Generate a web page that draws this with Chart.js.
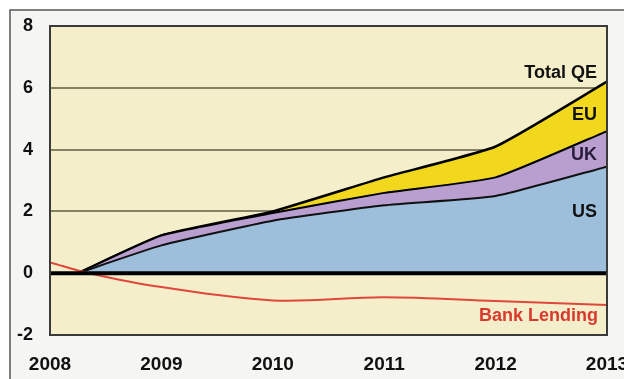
<!DOCTYPE html>
<html>
<head>
<meta charset="utf-8">
<script src="https://cdn.jsdelivr.net/npm/chart.js@4"></script>
<style>
  html, body { margin: 0; padding: 0; background: #fff; }
  #wrap { width: 624px; height: 379px; position: relative; }
</style>
</head>
<body>
<div id="wrap"><canvas id="qeChart" width="624" height="379"></canvas></div>
<script>
// data (trillions)
let years = [2008.25, 2009, 2010, 2011, 2012, 2013];
let us = [0, 0.9, 1.7, 2.2, 2.5, 3.45];
let uk = [0, 0.32, 0.25, 0.4, 0.6, 1.15];
let eu = [0, 0, 0.05, 0.5, 1.0, 1.6];
let lendingYears = [2008, 2008.35, 2009, 2010, 2011, 2012, 2013];
let lending = [0.35, 0, -0.45, -0.88, -0.78, -0.9, -1.03];
let yTicks = [-2, 0, 2, 4, 6, 8];
let xTicks = [2008, 2009, 2010, 2011, 2012, 2013];

function pts(xs, ys) {
  return xs.map((x, i) => ({ x: x, y: ys[i] }));
}

// cumulative totals for the stacked bands
let usTop = us.slice();
let ukTop = us.map((v, i) => v + uk[i]);
let euTop = ukTop.map((v, i) => v + eu[i]);

let FONT = "'Liberation Sans', Arial, sans-serif";

// frame + cream plot background + right-side labels
let decor = {
  id: "decor",
  beforeDraw(chart) {
    let c = chart.ctx, a = chart.chartArea;
    c.save();
    c.fillStyle = "#f5f5f3";
    c.fillRect(10, 10, 620, 375);
    c.strokeStyle = "#555";
    c.lineWidth = 1.5;
    c.beginPath();
    c.moveTo(10, 379);
    c.lineTo(10, 10);
    c.lineTo(624, 10);
    c.stroke();
    c.fillStyle = "#f4eecb";
    c.fillRect(a.left, a.top, a.right - a.left, a.bottom - a.top);
    c.restore();
  },
  afterDatasetsDraw(chart) {
    let c = chart.ctx, a = chart.chartArea;
    let y = chart.scales.y;
    c.save();
    // zero line
    c.strokeStyle = "#000";
    c.lineWidth = 4;
    c.beginPath();
    c.moveTo(a.left, y.getPixelForValue(0));
    c.lineTo(a.right, y.getPixelForValue(0));
    c.stroke();
    // plot border
    c.strokeStyle = "#3a3a3a";
    c.lineWidth = 2;
    c.strokeRect(a.left, a.top, a.right - a.left, a.bottom - a.top);
    // labels
    c.font = "bold 18px " + FONT;
    c.textAlign = "right";
    c.textBaseline = "middle";
    c.fillStyle = "#111";
    c.fillText("Total QE", a.right - 10, 73);
    c.fillText("EU", a.right - 10, 115);
    c.fillStyle = "#2a1d3a";
    c.fillText("UK", a.right - 10, 155);
    c.fillStyle = "#111";
    c.fillText("US", a.right - 10, 212);
    c.fillStyle = "#d83a2e";
    c.fillText("Bank Lending", a.right - 9, 316);
    c.restore();
  }
};

let ctx = document.getElementById("qeChart").getContext("2d");

let myChart = new Chart(ctx, {
  type: "line",
  data: {
    datasets: [
      {
        label: "Total QE",
        data: pts(years, euTop),
        borderColor: "#000",
        borderWidth: 2.5,
        backgroundColor: "#f2d81c",
        fill: "1",
        tension: 0.15,
        pointRadius: 0,
        order: 3,
      },
      {
        label: "UK",
        data: pts(years, ukTop),
        borderColor: "#000",
        borderWidth: 2,
        backgroundColor: "#b89fcf",
        fill: "2",
        tension: 0.15,
        pointRadius: 0,
        order: 2,
      },
      {
        label: "US",
        data: pts(years, usTop),
        borderColor: "#111",
        borderWidth: 2,
        backgroundColor: "#9dbfdc",
        fill: { value: 0 },
        tension: 0.15,
        pointRadius: 0,
        order: 1,
      },
      {
        label: "Bank Lending",
        data: pts(lendingYears, lending),
        borderColor: "#e0463a",
        borderWidth: 2,
        fill: false,
        tension: 0.35,
        pointRadius: 0,
        order: 0,
      },
    ],
  },
  options: {
    responsive: false,
    animation: false,
    layout: { padding: { left: 0, right: 17, top: 26, bottom: 0 } },
    plugins: {
      legend: { display: false },
      tooltip: { enabled: false },
    },
    scales: {
      x: {
        type: "linear",
        min: 2008,
        max: 2013,
        border: { display: false },
        grid: { display: false, drawTicks: false },
        afterBuildTicks(scale) {
          scale.ticks = xTicks.map((v) => ({ value: v }));
        },
        afterFit(scale) {
          scale.height = 44;
          scale.paddingLeft = 0;
          scale.paddingRight = 0;
        },
        ticks: {
          padding: 18,
          color: "#111",
          font: { family: FONT, size: 19, weight: "bold" },
          callback: (v) => String(v),
        },
      },
      y: {
        min: -2,
        max: 8,
        border: { display: false },
        grid: {
          drawTicks: false,
          color: (c) => (c.tick.value === 8 || c.tick.value === -2 || c.tick.value === 0 ? "rgba(0,0,0,0)" : "#858063"),
          lineWidth: 2,
        },
        afterBuildTicks(scale) {
          scale.ticks = yTicks.map((v) => ({ value: v }));
        },
        afterFit(scale) {
          scale.width = 50;
          scale.paddingTop = 0;
          scale.paddingBottom = 0;
        },
        ticks: {
          padding: 17,
          color: "#111",
          font: { family: FONT, size: 18, weight: "bold" },
        },
      },
    },
  },
  plugins: [decor],
});
</script>
</body>
</html>
